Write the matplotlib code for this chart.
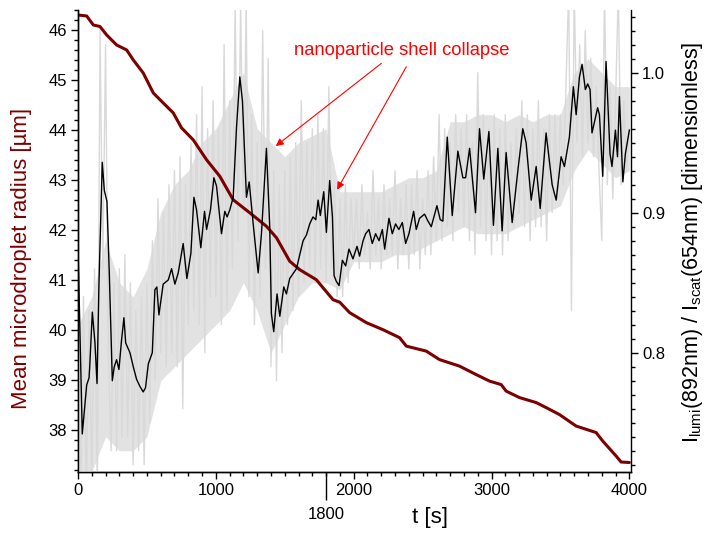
import matplotlib
matplotlib.use("Agg")
import matplotlib.pyplot as plt
from matplotlib.ticker import MultipleLocator
import numpy as np

plt.rcParams['font.family'] = ['Liberation Sans', 'DejaVu Sans']
plt.rcParams['mathtext.default'] = 'regular'

DARKRED = "#7d0000"
GREY = "#d9d9d9"
GREY_CORE = "#e2e2e2"

# mean microdroplet radius (left axis)
t_radius = [0, 63, 111, 159, 208, 280, 353, 401, 473, 546, 618, 691, 751, 836,
            933, 1029, 1126, 1246, 1367, 1440, 1536, 1609, 1729, 1850, 1899,
            1971, 2092, 2212, 2333, 2382, 2527, 2623, 2768, 2889, 2986, 3070,
            3106, 3203, 3324, 3396, 3493, 3614, 3759, 3807, 3904, 3940, 4000]
radius = [46.31, 46.29, 46.11, 46.08, 45.91, 45.71, 45.61, 45.41, 45.15, 44.75,
          44.55, 44.35, 44.05, 43.81, 43.41, 43.08, 42.61, 42.35, 42.08, 41.85,
          41.38, 41.21, 41.01, 40.61, 40.56, 40.35, 40.15, 40.01, 39.85, 39.68,
          39.58, 39.41, 39.28, 39.11, 38.98, 38.91, 38.78, 38.65, 38.55, 38.45,
          38.31, 38.08, 37.95, 37.78, 37.48, 37.36, 37.35]

# raw intensity ratio, sampled every 20 s (right axis, grey spikes)
t_raw = np.arange(0, 4001, 20)
ratio_raw = [
    0.86, 0.70, 0.84, 0.70, 0.83, 0.71, 0.86, 0.70, 1.03, 0.86, 1.02, 0.80, 0.73, 0.85, 0.73, 0.86, 0.74, 0.87, 0.74, 0.85,
    0.72, 0.83, 0.73, 0.84, 0.72, 0.85, 0.75, 0.88, 0.78, 0.91, 0.80, 0.90, 0.79, 0.92, 0.80, 0.93, 0.79, 0.94, 0.76, 0.92,
    0.82, 0.95, 0.83, 0.97, 0.82, 0.99, 0.80, 0.96, 0.84, 0.98, 0.84, 0.96, 0.82, 1.02, 0.83, 0.98, 0.86, 1.05, 0.88, 1.05,
    0.90, 1.05, 0.84, 0.97, 0.82, 0.95, 0.84, 1.03, 0.86, 1.01, 0.79, 0.93, 0.78, 0.92, 0.80, 0.93, 0.82, 0.94, 0.83, 0.95,
    0.84, 0.98, 0.85, 0.95, 0.86, 0.96, 0.85, 0.97, 0.86, 0.96, 0.85, 0.99, 0.86, 0.92, 0.84, 0.91, 0.84, 0.92, 0.85, 0.91,
    0.87, 0.91, 0.86, 0.92, 0.87, 0.90, 0.86, 0.93, 0.87, 0.91, 0.86, 0.92, 0.87, 0.91, 0.87, 0.93, 0.86, 0.91, 0.87, 0.92,
    0.86, 0.92, 0.87, 0.93, 0.86, 0.91, 0.87, 0.93, 0.87, 0.94, 0.88, 0.97, 0.88, 0.96, 0.89, 0.95, 0.88, 0.97, 0.90, 0.96,
    0.89, 0.97, 0.88, 0.95, 0.87, 1.00, 0.89, 0.97, 0.88, 0.96, 0.87, 0.97, 0.88, 0.96, 0.87, 0.97, 0.88, 0.95, 0.89, 0.96,
    0.90, 0.98, 0.89, 0.97, 0.88, 0.96, 0.89, 0.98, 0.89, 0.96, 0.88, 0.97, 0.90, 0.97, 0.91, 0.97, 0.92, 0.99, 1.06, 0.83,
    1.06, 0.95, 1.02, 0.94, 1.03, 0.95, 1.01, 0.94, 0.99, 0.93, 0.88, 1.06, 0.92, 0.99, 0.91, 0.98, 1.06, 0.92, 0.98, 0.93,
    0.96,
]

# dense core of the raw signal, every 100 s
t_core = np.arange(0, 4001, 100)
core_lo = [0.715, 0.715, 0.74, 0.73, 0.73, 0.74, 0.78, 0.79, 0.80, 0.81,
           0.82, 0.83, 0.85, 0.83, 0.80, 0.82, 0.84, 0.85, 0.85, 0.845,
           0.865, 0.865, 0.865, 0.87, 0.87, 0.875, 0.88, 0.885, 0.89, 0.885,
           0.885, 0.885, 0.89, 0.895, 0.90, 0.905, 0.93, 0.945, 0.935, 0.925, 0.93]
core_hi = [0.82, 0.84, 0.88, 0.85, 0.84, 0.86, 0.90, 0.92, 0.93, 0.95,
           0.96, 0.98, 1.00, 0.96, 0.95, 0.94, 0.95, 0.955, 0.96, 0.915,
           0.915, 0.915, 0.915, 0.92, 0.925, 0.925, 0.93, 0.965, 0.965, 0.97,
           0.97, 0.965, 0.97, 0.965, 0.97, 0.97, 1.00, 1.01, 1.00, 0.99, 0.99]

# smoothed intensity ratio (right axis, black)
t_smooth = [2, 31, 51, 63, 80, 85, 104, 123, 138, 152, 176, 191, 210, 227, 249, 263, 280, 297, 316, 333,
            346, 377, 401, 425, 449, 473, 490, 510, 539, 558, 572, 587, 618, 655, 679, 703, 727, 763, 790, 819,
            841, 860, 891, 918, 933, 961, 986, 1005, 1041, 1065, 1082, 1101, 1126, 1150, 1174, 1193, 1222, 1242, 1271, 1307,
            1331, 1367, 1391, 1403, 1420, 1444, 1464, 1493, 1512, 1536, 1585, 1609, 1633, 1657, 1681, 1705, 1725, 1742, 1758, 1783,
            1802, 1826, 1846, 1858, 1874, 1894, 1918, 1942, 1966, 1995, 2024, 2043, 2068, 2087, 2111, 2135, 2159, 2184, 2208, 2225,
            2256, 2280, 2304, 2328, 2353, 2377, 2401, 2435, 2454, 2478, 2514, 2539, 2563, 2604, 2628, 2647, 2679, 2715, 2756, 2792,
            2812, 2841, 2884, 2913, 2944, 2981, 3014, 3046, 3077, 3106, 3150, 3191, 3227, 3251, 3288, 3324, 3353, 3396, 3440, 3469,
            3505, 3529, 3553, 3565, 3594, 3614, 3638, 3657, 3681, 3698, 3715, 3729, 3770, 3783, 3807, 3831, 3860, 3874, 3899, 3914,
            3928, 3953, 3971, 4000]
ratio_smooth = [0.867, 0.742, 0.764, 0.777, 0.782, 0.790, 0.829, 0.807, 0.778, 0.849, 0.936, 0.916, 0.908, 0.857, 0.780, 0.790, 0.795, 0.788, 0.809, 0.825,
                0.807, 0.800, 0.790, 0.781, 0.776, 0.772, 0.775, 0.792, 0.800, 0.845, 0.847, 0.827, 0.849, 0.852, 0.860, 0.849, 0.857, 0.878, 0.853, 0.871,
                0.911, 0.902, 0.875, 0.901, 0.888, 0.902, 0.925, 0.919, 0.885, 0.901, 0.897, 0.902, 0.911, 0.961, 0.997, 0.980, 0.911, 0.922, 0.892, 0.857,
                0.885, 0.946, 0.890, 0.828, 0.815, 0.842, 0.826, 0.847, 0.842, 0.853, 0.860, 0.870, 0.880, 0.884, 0.892, 0.897, 0.895, 0.909, 0.898, 0.915,
                0.886, 0.923, 0.897, 0.855, 0.851, 0.848, 0.866, 0.862, 0.874, 0.867, 0.876, 0.869, 0.880, 0.885, 0.888, 0.878, 0.885, 0.880, 0.888, 0.874,
                0.896, 0.885, 0.892, 0.888, 0.893, 0.878, 0.885, 0.901, 0.888, 0.896, 0.899, 0.894, 0.890, 0.905, 0.895, 0.894, 0.954, 0.898, 0.944, 0.925,
                0.925, 0.946, 0.900, 0.960, 0.924, 0.958, 0.891, 0.946, 0.887, 0.943, 0.893, 0.930, 0.960, 0.950, 0.909, 0.933, 0.903, 0.957, 0.920, 0.909,
                0.940, 0.933, 0.947, 0.954, 0.990, 0.970, 0.997, 1.006, 0.988, 0.992, 0.988, 0.957, 0.975, 0.970, 0.926, 1.008, 0.942, 0.933, 0.959, 0.940,
                0.983, 0.922, 0.942, 0.959]

fig = plt.figure(figsize=(7.05, 5.33), dpi=100)
ax = fig.add_axes([78 / 705, 1 - 472 / 533, (631 - 78) / 705, (472 - 10) / 533])
ax.set_xlim(0, 4012)
ax.set_ylim(37.16, 46.41)

ax2 = ax.twinx()
ax2.fill_between(t_core, core_lo, core_hi, color=GREY_CORE, lw=0, zorder=1)
ax2.plot(t_raw, ratio_raw, color=GREY, lw=1.0, zorder=1)
# radius curve drawn in left-axis units on top of the grey signal
ax2.plot(t_radius, radius, color=DARKRED, lw=2.2, solid_capstyle="round",
         transform=ax.transData, zorder=2)
ax2.plot(t_smooth, ratio_smooth, color="black", lw=1.0, zorder=3)
ax2.set_ylim(0.7148, 1.0448)

for a in (ax, ax2):
    a.spines["top"].set_visible(False)
    for s in a.spines.values():
        s.set_linewidth(1.0)
ax.spines["right"].set_visible(False)

ax.xaxis.set_major_locator(MultipleLocator(1000))
ax.xaxis.set_minor_locator(MultipleLocator(100))
ax.yaxis.set_major_locator(MultipleLocator(1))
ax.yaxis.set_minor_locator(MultipleLocator(0.2))
ax2.yaxis.set_major_locator(MultipleLocator(0.1))
ax2.yaxis.set_minor_locator(MultipleLocator(0.01))
ax2.yaxis.set_major_formatter(plt.FormatStrFormatter("%.1f"))

for a in (ax, ax2):
    a.tick_params(which="major", direction="out", length=5, width=1.0,
                  labelsize=12, pad=3)
    a.tick_params(which="minor", direction="out", length=3, width=1.0)
ax.tick_params(top=False, right=False)

# extra marker at 1800 s
sec = ax.secondary_xaxis("bottom")
sec.set_xticks([1800])
sec.set_xticklabels(["1800"])
sec.tick_params(length=20, width=1.0, labelsize=12, pad=5)
sec.spines["bottom"].set_visible(False)

ax.set_xlabel("t [s]", fontsize=16)
ax.xaxis.set_label_coords((430 - 78) / 553, -0.076)
ax.set_ylabel("Mean microdroplet radius [µm]", fontsize=16, color=DARKRED)
ax.yaxis.set_label_coords(-0.083, 0.463)
ax2.set_ylabel(r"I$_{lumi}$(892nm) / I$_{scat}$(654nm) [dimensionless]",
               fontsize=15.5)
ax2.yaxis.set_label_coords(1.088, 0.498)

ax2.text(2348, 1.0162, "nanoparticle shell collapse", color="red",
         fontsize=13.2, ha="center", va="center", zorder=4)
arrow = dict(arrowstyle="-|>", color="red", lw=0.8, mutation_scale=11,
             shrinkA=0, shrinkB=0)
ax2.annotate("", xy=(1435, 0.9476), xytext=(2201, 1.0067), arrowprops=arrow)
ax2.annotate("", xy=(1880, 0.9165), xytext=(2382, 1.0043), arrowprops=arrow)

fig.savefig("out.png", dpi=100)
